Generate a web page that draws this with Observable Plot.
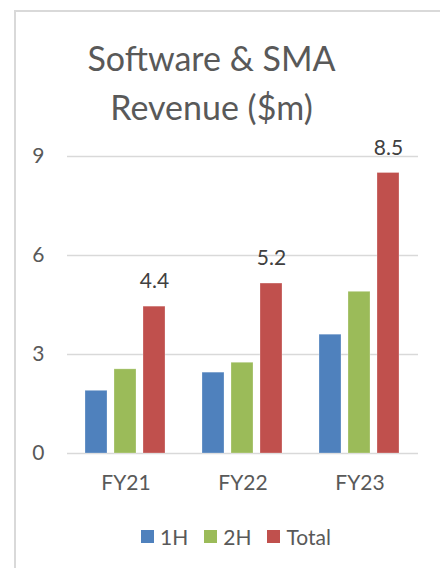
<!DOCTYPE html>
<html>
<head>
<meta charset="utf-8">
<script src="https://cdn.jsdelivr.net/npm/d3@7"></script>
<script src="https://cdn.jsdelivr.net/npm/@observablehq/plot@0.6"></script>
<style>
  html, body { margin: 0; padding: 0; background: #fff; }
  body { width: 440px; height: 568px; overflow: hidden; position: relative; font-family: Lato, "Open Sans", sans-serif; color: #595959; }
  #frame { position: absolute; left: 14px; top: 10px; width: 500px; height: 600px; border-left: 2px solid #d9d9d9; border-top: 2px solid #d9d9d9; }
  #title { position: absolute; left: 0; width: 423px; top: 33px; text-align: center; font-size: 34px; line-height: 49px; color: #595959; }
  #chart { position: absolute; left: 0; top: 130px; }
  #legend { position: absolute; left: 0; width: 472px; top: 524px; display: flex; justify-content: center; align-items: center; font-size: 21px; color: #595959; }
  .item { display: flex; align-items: center; margin: 0 8px; }
  .sw { width: 13px; height: 13px; margin-right: 6px; }
</style>
</head>
<body>
<div id="frame"></div>
<div id="title">Software &amp; SMA<br>Revenue ($m)</div>
<div id="chart"></div>
<div id="legend"></div>
<script>
const years = ["FY21", "FY22", "FY23"];
const seriesNames = ["1H", "2H", "Total"];
const h1 = [1.9, 2.45, 3.6];
const h2 = [2.55, 2.75, 4.9];
const total = [4.45, 5.15, 8.5];
const totalLabels = ["4.4", "5.2", "8.5"];
const yTicks = [0, 3, 6, 9];
const colors = ["#4F81BD", "#9BBB59", "#C0504D"];

const data = [];
years.forEach((yr, i) => {
  data.push({year: yr, series: "1H", value: h1[i]});
  data.push({year: yr, series: "2H", value: h2[i]});
  data.push({year: yr, series: "Total", value: total[i], label: totalLabels[i]});
});

const plot = Plot.plot({
  width: 440,
  height: 380,
  marginLeft: 67,
  marginRight: 22,
  marginTop: 26,
  marginBottom: 57,
  style: {fontFamily: "Lato, 'Open Sans', sans-serif", color: "#595959", background: "transparent"},
  fx: {domain: years, padding: 0, label: null},
  x: {domain: seriesNames, paddingInner: 0.233, paddingOuter: 0.567, axis: null},
  y: {domain: [0, 9], axis: null},
  color: {domain: seriesNames, range: colors},
  marks: [
    Plot.ruleY(yTicks, {stroke: "#d9d9d9", strokeWidth: 1.5}),
    Plot.barY(data, {fx: "year", x: "series", y: "value", fill: "series", stroke: "#ffffff", strokeOpacity: 0.35, strokeWidth: 0.75}),
    Plot.text(data.filter(d => d.series === "Total"), {fx: "year", x: "series", y: "value", text: "label", dy: -25, fontSize: 21, fill: "#404040"}),
    Plot.axisY(yTicks, {tickSize: 0, tickPadding: 23, fontSize: 21, label: null, tickFormat: d => String(d)}),
    Plot.axisFx({anchor: "bottom", tickSize: 0, tickPadding: 22, fontSize: 21, label: null})
  ]
});
document.getElementById("chart").appendChild(plot);

const legend = document.getElementById("legend");
seriesNames.forEach((s, i) => {
  const item = document.createElement("div");
  item.className = "item";
  const sw = document.createElement("div");
  sw.className = "sw";
  sw.style.background = colors[i];
  const t = document.createElement("span");
  t.textContent = s;
  item.appendChild(sw);
  item.appendChild(t);
  legend.appendChild(item);
});
</script>
</body>
</html>
